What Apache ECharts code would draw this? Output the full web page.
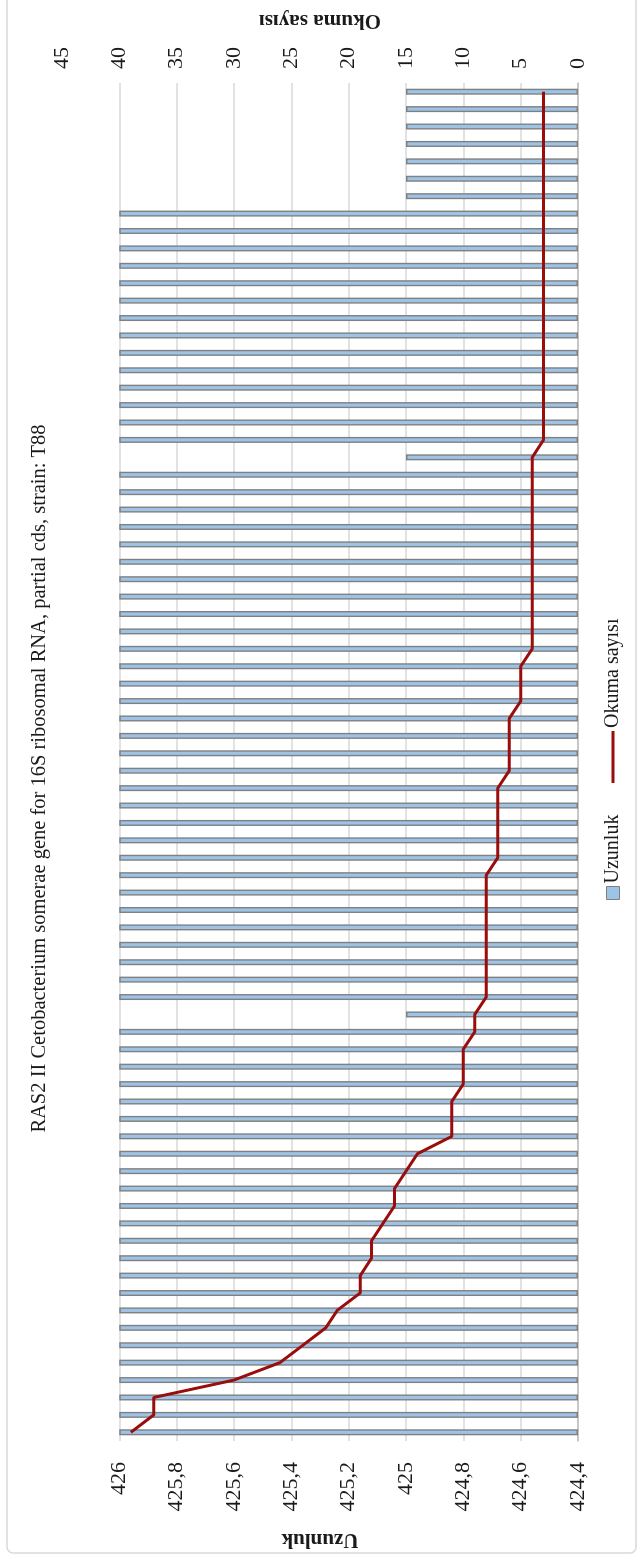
<!DOCTYPE html>
<html>
<head>
<meta charset="utf-8">
<script src="https://cdn.jsdelivr.net/npm/echarts@6/dist/echarts.min.js"></script>
<style>
  html, body { margin: 0; padding: 0; background: #fff; overflow: hidden; width: 643px; height: 1557px; }
  /* The chart is laid out landscape and turned a quarter turn counter-clockwise */
  #chart { position: absolute; left: 0; top: 0; width: 1557px; height: 643px;
           transform-origin: 0 0; transform: translate(0, 1557px) rotate(-90deg); }
</style>
</head>
<body>
<div id="chart"></div>
<script>
const chartTitle = 'RAS2 II Cetobacterium somerae gene for 16S ribosomal RNA, partial cds, strain: T88';
const barSeriesName = 'Uzunluk';
const lineSeriesName = 'Okuma sayısı';

// Length of each read (primary axis)
const uzunluk = [
  426, 426, 426, 426, 426, 426, 426, 426, 426, 426,
  426, 426, 426, 426, 426, 426, 426, 426, 426, 426,
  426, 426, 426, 426, 425, 426, 426, 426, 426, 426,
  426, 426, 426, 426, 426, 426, 426, 426, 426, 426,
  426, 426, 426, 426, 426, 426, 426, 426, 426, 426,
  426, 426, 426, 426, 426, 426, 425, 426, 426, 426,
  426, 426, 426, 426, 426, 426, 426, 426, 426, 426,
  426, 425, 425, 425, 425, 425, 425, 425
];

// Read count for each entry (secondary axis)
const okumaSayisi = [
  39, 37, 37, 30, 26, 24, 22, 21, 19, 19,
  18, 18, 17, 16, 16, 15, 14, 11, 11, 11,
  10, 10, 10, 9, 9, 8, 8, 8, 8, 8,
  8, 8, 8, 7, 7, 7, 7, 7, 6, 6,
  6, 6, 5, 5, 5, 4, 4, 4, 4, 4,
  4, 4, 4, 4, 4, 4, 4, 3, 3, 3,
  3, 3, 3, 3, 3, 3, 3, 3, 3, 3,
  3, 3, 3, 3, 3, 3, 3, 3
];

// Entries are unlabelled on the category axis; they are simply numbered
const categories = uzunluk.map((_, i) => String(i + 1));

// Axis scales
const uzunlukAxis = { min: 424.4, max: 426.2, interval: 0.2 };
const okumaAxis = { min: 0, max: 45, interval: 5 };

const serif = '"Liberation Serif", "Times New Roman", serif';
const textColor = '#1a1a1a';
const lineColor = '#990d0d';

const chart = echarts.init(document.getElementById('chart'), null, { renderer: 'canvas' });

chart.setOption({
  animation: false,
  backgroundColor: '#ffffff',
  title: {
    text: chartTitle,
    left: 'center',
    top: 29,
    padding: 0,
    textStyle: { fontFamily: serif, fontSize: 20.5, fontWeight: 'normal', color: textColor }
  },
  legend: [
    {
      data: [barSeriesName],
      left: 657, top: 603,
      padding: 0,
      itemWidth: 13, itemHeight: 13,
      icon: 'rect',
      selectedMode: false,
      itemStyle: { borderColor: '#7f7f7f', borderWidth: 1 },
      textStyle: { fontFamily: serif, fontSize: 20, color: textColor, padding: [0, 0, 0, -2] }
    },
    {
      data: [{ name: lineSeriesName, icon: 'path://M0,0H100V6H0Z' }],
      left: 774, top: 603,
      padding: 0,
      itemWidth: 52, itemHeight: 13,
      selectedMode: false,
      textStyle: { fontFamily: serif, fontSize: 20, color: textColor, padding: [0, 0, 0, -2] }
    }
  ],
  grid: { left: 116, right: 83, top: 62, bottom: 65, outerBoundsMode: 'none' },
  xAxis: {
    type: 'category',
    data: categories,
    boundaryGap: true,
    axisLine: { show: true, lineStyle: { color: '#bfbfbf', width: 1.5 } },
    axisTick: { show: false },
    axisLabel: { show: false },
    splitLine: { show: false }
  },
  yAxis: [
    {
      type: 'value',
      min: uzunlukAxis.min,
      max: uzunlukAxis.max,
      interval: uzunlukAxis.interval,
      startValue: uzunlukAxis.min,
      name: barSeriesName,
      nameLocation: 'middle',
      nameRotate: 90,
      nameGap: 88,
      nameTextStyle: { fontFamily: serif, fontSize: 21, fontWeight: 'bold', color: textColor },
      axisLine: { show: false },
      axisTick: { show: false },
      axisLabel: {
        showMaxLabel: false,
        margin: 21,
        fontFamily: serif, fontSize: 22, color: textColor,
        formatter: v => String(+v.toFixed(1)).replace('.', ',')
      },
      splitLine: { show: true, showMaxLine: false, lineStyle: { color: '#d9d9d9', width: 1.5 } }
    },
    {
      type: 'value',
      position: 'right',
      min: okumaAxis.min,
      max: okumaAxis.max,
      interval: okumaAxis.interval,
      name: lineSeriesName,
      nameLocation: 'middle',
      nameRotate: 90,
      nameGap: 52,
      nameTextStyle: { fontFamily: serif, fontSize: 21, fontWeight: 'bold', color: textColor },
      axisLine: { show: false },
      axisTick: { show: false },
      axisLabel: { margin: 14, fontFamily: serif, fontSize: 22, color: textColor },
      splitLine: { show: false }
    }
  ],
  series: [
    {
      name: barSeriesName,
      type: 'bar',
      yAxisIndex: 0,
      data: uzunluk,
      barWidth: 6,
      itemStyle: { color: '#9dc3e6', borderColor: '#808080', borderWidth: 1.4 },
      emphasis: { disabled: true }
    },
    {
      name: lineSeriesName,
      type: 'line',
      yAxisIndex: 1,
      data: okumaSayisi,
      symbol: 'none',
      lineStyle: { color: lineColor, width: 3 },
      itemStyle: { color: lineColor },
      emphasis: { disabled: true }
    }
  ],
  graphic: [
    {
      type: 'rect',
      silent: true,
      z: -1,
      shape: { x: 4, y: 7, width: 1600, height: 629, r: 6 },
      style: { fill: null, stroke: '#d9d9d9', lineWidth: 1.5 }
    }
  ]
});
</script>
</body>
</html>
